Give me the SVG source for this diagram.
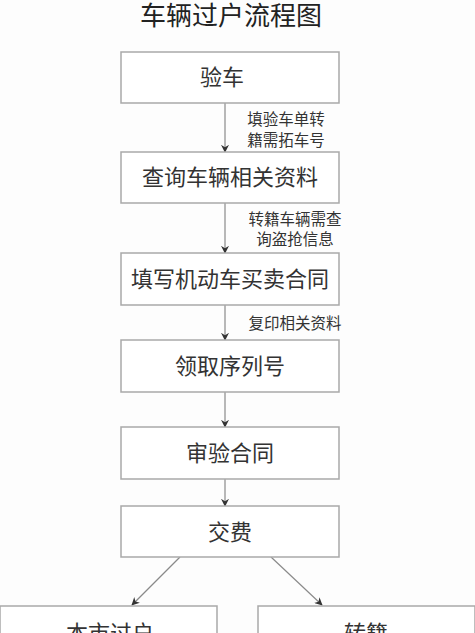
<svg xmlns="http://www.w3.org/2000/svg" width="475" height="633" viewBox="0 0 475 633">
<defs>
<style>
text{font-family:"Noto Sans CJK SC","Noto Sans",sans-serif;}
.box{fill:#ffffff;stroke:#a9a9a9;stroke-width:1.5;}
.t{font-size:22px;fill:#333;text-anchor:middle;}
.lbl{font-size:15.5px;fill:#333;text-anchor:middle;}
.title{font-size:26px;fill:#222;text-anchor:middle;}
.edge{stroke:#8a8a8a;stroke-width:1.2;fill:none;marker-end:url(#arr);}
</style>
<marker id="arr" viewBox="0 0 10 10" refX="9" refY="5" markerWidth="8" markerHeight="8" markerUnits="userSpaceOnUse" orient="auto">
<path d="M0,0 L10,5 L0,10 L3,5 z" fill="#333"/>
</marker>
</defs>
<rect width="475" height="633" fill="#fdfdfd"/>
<text class="title" x="231" y="25">车辆过户流程图</text>
<g id="connectors">
<line class="edge" x1="225" y1="103" x2="225" y2="152"/>
<line class="edge" x1="225" y1="203" x2="225" y2="253"/>
<line class="edge" x1="225" y1="305" x2="225" y2="340"/>
<line class="edge" x1="225" y1="392" x2="225" y2="427"/>
<line class="edge" x1="225" y1="479" x2="225" y2="506"/>
<line class="edge" x1="180" y1="557" x2="132" y2="605"/>
<line class="edge" x1="271" y1="557" x2="322" y2="605"/>
<text class="lbl" x="286" y="125">填验车单转</text>
<text class="lbl" x="286" y="146">籍需拓车号</text>
<text class="lbl" x="295" y="225">转籍车辆需查</text>
<text class="lbl" x="295" y="245">询盗抢信息</text>
<text class="lbl" x="295" y="329">复印相关资料</text>
</g>
<g id="n1"><rect class="box" x="121" y="52" width="218" height="51"/><text class="t" x="222" y="85">验车</text></g>
<g id="n2"><rect class="box" x="121" y="152" width="218" height="51"/><text class="t" x="230" y="185">查询车辆相关资料</text></g>
<g id="n3"><rect class="box" x="121" y="253" width="218" height="52"/><text class="t" x="230" y="287">填写机动车买卖合同</text></g>
<g id="n4"><rect class="box" x="121" y="340" width="218" height="52"/><text class="t" x="230" y="374">领取序列号</text></g>
<g id="n5"><rect class="box" x="121" y="427" width="218" height="52"/><text class="t" x="230" y="461">审验合同</text></g>
<g id="n6"><rect class="box" x="121" y="506" width="218" height="51"/><text class="t" x="230" y="540">交费</text></g>
<g id="n7"><rect class="box" x="0" y="606" width="217" height="52"/><text class="t" x="110" y="641">本市过户</text></g>
<g id="n8"><rect class="box" x="258" y="606" width="217" height="52"/><text class="t" x="366" y="641">转籍</text></g>
</svg>
